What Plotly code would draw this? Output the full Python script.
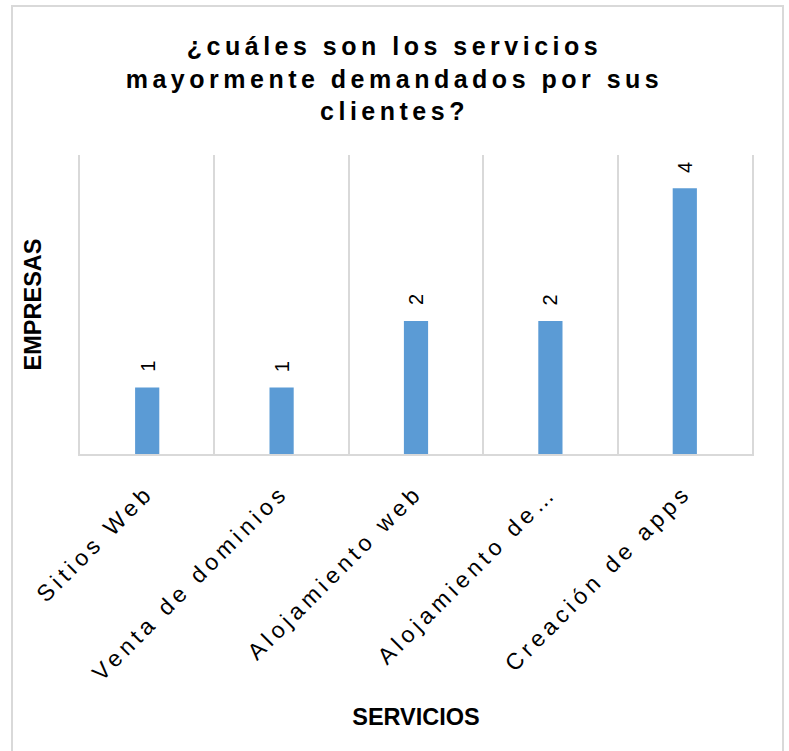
import plotly.graph_objects as go

categories = ["Sitios Web", "Venta de dominios", "Alojamiento web", "Alojamiento de…", "Creación de apps"]
values = [1, 1, 2, 2, 4]
title_text = "¿cuáles son los servicios<br>mayormente demandados por sus<br>clientes?"
x_title = "SERVICIOS"
y_title = "EMPRESAS"

FONT = "Liberation Sans, Arial, sans-serif"

fig = go.Figure(
    go.Bar(
        x=categories,
        y=values,
        width=0.18,
        marker=dict(color="#5B9BD5", line=dict(width=0)),
        hoverinfo="x+y",
    )
)

# data labels, rotated, above each bar
for c, v in zip(categories, values):
    fig.add_annotation(
        x=c, y=v, xref="x", yref="y",
        text=str(v), showarrow=False,
        textangle=-90,
        yanchor="middle", xanchor="center",
        yshift=21,
        font=dict(family=FONT, size=20, color="#000000"),
    )

fig.update_layout(
    width=789,
    height=751,
    margin=dict(l=80, r=37, t=155, b=297),
    paper_bgcolor="white",
    plot_bgcolor="white",
    showlegend=False,
    font=dict(family=FONT, color="#000000"),
    title=dict(
        text=title_text,
        x=0.5,
        xref="container",
        xanchor="center",
        y=1 - 55 / 751,
        yref="container",
        yanchor="top",
        font=dict(family=FONT, size=25, color="#000000", weight="bold"),
    ),
    xaxis=dict(
        type="category",
        tickson="boundaries",
        showgrid=True,
        gridcolor="#D9D9D9",
        gridwidth=1.5,
        showline=True,
        linecolor="#D9D9D9",
        linewidth=2,
        ticks="",
        tickangle=-45,
        ticklabelstandoff=14,
        tickfont=dict(family=FONT, size=23, color="#000000"),
        title=dict(text=x_title, font=dict(family=FONT, size=23.5, color="#000000", weight="bold"), standoff=78),
        automargin=True,
    ),
    yaxis=dict(
        range=[0, 4.5],
        showgrid=False,
        zeroline=False,
        showline=True,
        mirror=True,
        linecolor="#D9D9D9",
        linewidth=1.5,
        showticklabels=False,
        ticks="",
        title=dict(text=y_title, font=dict(family=FONT, size=23.5, color="#000000", weight="bold"), standoff=30),
        automargin=False,
    ),
    shapes=[
        dict(
            type="rect",
            xref="paper",
            yref="paper",
            x0=(12 - 80) / 672,
            x1=(783 - 80) / 672,
            y0=(454 - 770) / 299,
            y1=(454 - 6) / 299,
            line=dict(color="#D9D9D9", width=2),
            fillcolor="rgba(0,0,0,0)",
            layer="above",
        )
    ],
)

post = """
(function(){
  var gd = document.getElementsByClassName('plotly-graph-div')[0];
  function sp(){
    gd.querySelectorAll('.gtitle').forEach(function(t){ t.style.letterSpacing='4.5px'; });
    gd.querySelectorAll('.xtick text').forEach(function(t){ t.style.letterSpacing='4.5px'; });
  }
  sp();
  gd.on && gd.on('plotly_afterplot', sp);
})();
"""

fig.write_html("out.html", post_script=post)
